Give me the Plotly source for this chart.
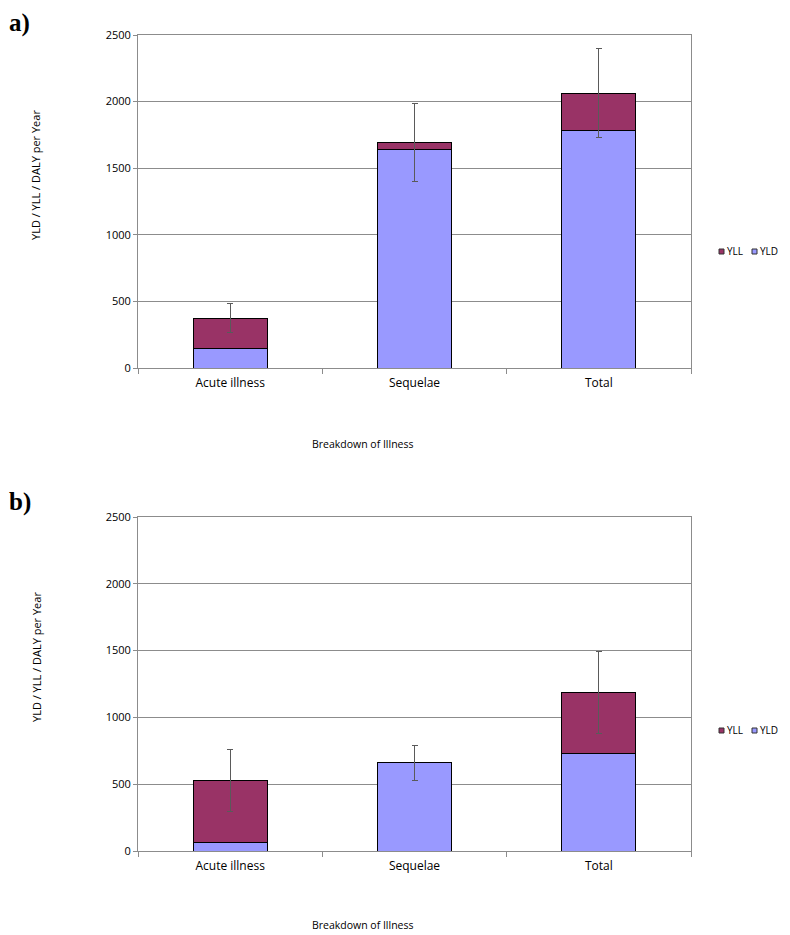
import plotly.graph_objects as go
from plotly.subplots import make_subplots

categories = ["Acute illness", "Sequelae", "Total"]

# panel a)
yld_a = [145, 1640, 1784]
yll_a = [230, 50, 278]
err_a = [108, 293, 335]

# panel b)
yld_b = [64, 660, 727]
yll_b = [463, 0, 462]
err_b = [234, 131, 306]

yld_color = "#9999FF"
yll_color = "#993366"
grid_color = "#8c8c8c"
font_family = "'Open Sans', sans-serif"

W, H = 790, 935
OFF = 8  # page body margin

def px(x):
	return (x - OFF) / W

def py(y):
	return 1 - (y - OFF) / H

fig = make_subplots(rows=2, cols=1)

def add_panel(row, yld, yll, err):
	fig.add_trace(go.Bar(x=categories, y=yld, name="YLD",
						marker=dict(color=yld_color, line=dict(color="black", width=1)),
						width=0.4), row=row, col=1)
	fig.add_trace(go.Bar(x=categories, y=yll, name="YLL",
						marker=dict(color=yll_color, line=dict(color="black", width=1)),
						width=0.4,
						error_y=dict(type="data", array=err, visible=True,
									color="#5a5a5a", thickness=1, width=3)), row=row, col=1)

add_panel(1, yld_a, yll_a, err_a)
add_panel(2, yld_b, yll_b, err_b)

# plot areas in reference pixels
x0, x1 = 138, 691
top_a, bot_a = 35, 368
top_b, bot_b = 517, 851

axis_style = dict(showline=True, linecolor=grid_color, linewidth=1, mirror=True)

for i, (t, b) in enumerate([(top_a, bot_a), (top_b, bot_b)], start=1):
	xa = "xaxis" if i == 1 else "xaxis2"
	ya = "yaxis" if i == 1 else "yaxis2"
	fig.layout[xa].update(domain=[px(x0), px(x1)], ticks="outside", tickson="boundaries",
						ticklen=5, tickcolor=grid_color, showgrid=False, ticklabelstandoff=4,
						tickfont=dict(family=font_family, size=12, color="black"), **axis_style)
	fig.layout[ya].update(domain=[py(b), py(t)], range=[0, 2500], dtick=500,
						ticks="outside", ticklen=4, tickcolor=grid_color,
						showgrid=True, gridcolor=grid_color, gridwidth=1, zeroline=False,
						tickfont=dict(family=font_family, size=11, color="black"), **axis_style)

annotations = []
shapes = []
for label, ytop, mid in [("a)", 8, 175), ("b)", 487, 657)]:
	annotations.append(dict(text="<b>" + label + "</b>", x=px(8), y=py(ytop), xref="paper", yref="paper",
							xanchor="left", yanchor="top", showarrow=False, borderpad=0,
							font=dict(family="Liberation Serif", size=25, color="black")))
	annotations.append(dict(text="YLD / YLL / DALY per Year", x=px(36), y=py(mid),
							xref="paper", yref="paper", textangle=-90, showarrow=False,
							xanchor="center", yanchor="middle",
							font=dict(family=font_family, size=11, color="black")))
for ypix in [444, 925]:
	annotations.append(dict(text="Breakdown of Illness", x=px(363), y=py(ypix),
							xref="paper", yref="paper", showarrow=False,
							xanchor="center", yanchor="middle",
							font=dict(family=font_family, size=10.5, color="black")))

# legends (YLL, YLD side by side at the right of each panel)
for ypix in [251, 730]:
	for name, color, xs in [("YLL", yll_color, 719), ("YLD", yld_color, 752)]:
		shapes.append(dict(type="rect", xref="paper", yref="paper",
						x0=px(xs), x1=px(xs + 5), y0=py(ypix + 3), y1=py(ypix - 2),
						fillcolor=color, line=dict(color="#333333", width=1)))
		annotations.append(dict(text=name, x=px(xs + 6), y=py(ypix), xref="paper", yref="paper",
								xanchor="left", yanchor="middle", showarrow=False,
								font=dict(family=font_family, size=10, color="black")))

fig.update_layout(
	width=W, height=H, barmode="stack",
	margin=dict(l=0, r=0, t=0, b=0, autoexpand=False),
	plot_bgcolor="white", paper_bgcolor="white",
	showlegend=False,
	annotations=annotations,
	shapes=shapes,
)

fig.write_html("out.html")
